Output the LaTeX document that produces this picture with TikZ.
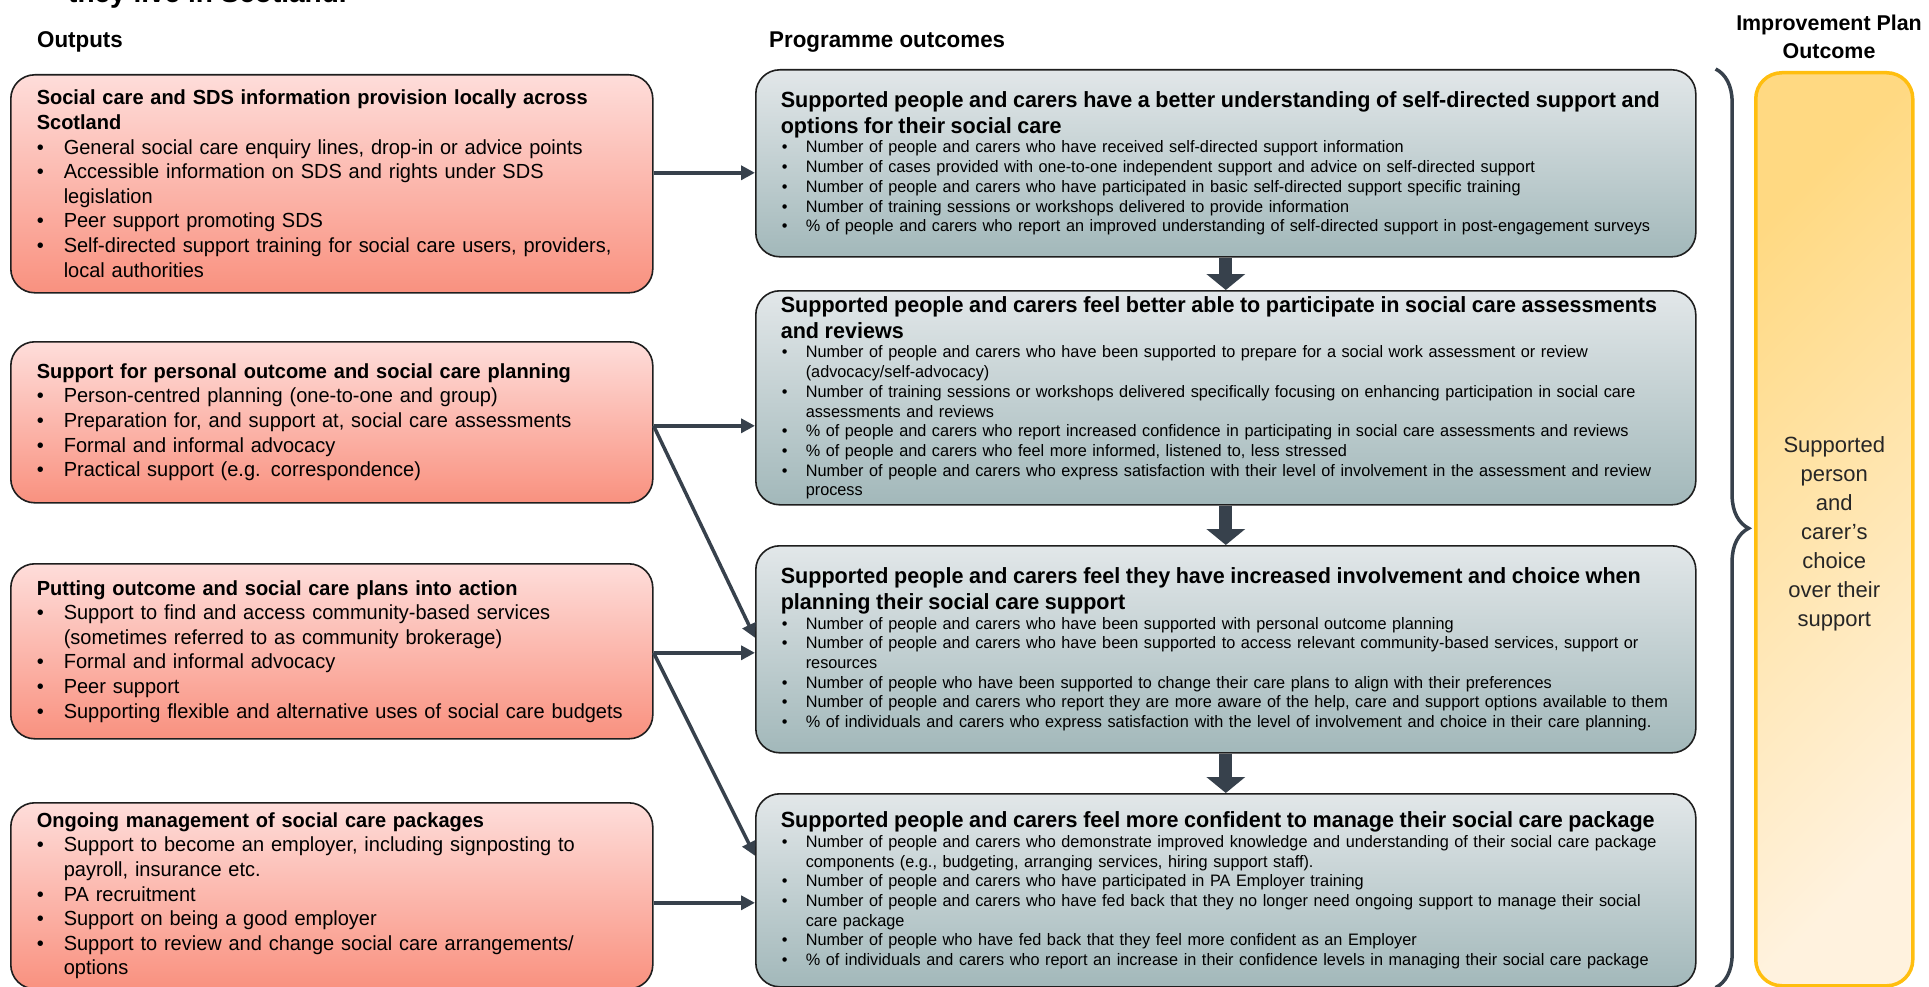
\documentclass[tikz,border=0pt]{standalone}
\usepackage{fontspec}
\setmainfont{Liberation Sans}[FakeStretch=0.98]
\newfontfamily\widefont{Liberation Sans}
\usepackage{tikz}
\usetikzlibrary{arrows.meta}
\usetikzlibrary{decorations.pathreplacing}

\definecolor{pinktop}{HTML}{FEDDDA}
\definecolor{pinkbot}{HTML}{F9917F}
\definecolor{greytop}{HTML}{E2E7E9}
\definecolor{greybot}{HTML}{A2B8BA}
\definecolor{edgec}{HTML}{1E1E1E}
\definecolor{arrowc}{HTML}{37414C}
\definecolor{goldtop}{HTML}{FFD982}
\definecolor{goldbot}{HTML}{FFF2DE}
\definecolor{goldedge}{HTML}{FFBE0F}

\setlength{\parindent}{0pt}
\newlength{\bulind}
\newlength{\bulpre}
\newcommand{\bitem}[1]{\par\noindent\hangindent=\bulind\hangafter=1\makebox[\bulind][l]{\hspace{\bulpre}\textbullet}#1\par}

\tikzset{
  outbox/.style={draw=edgec, line width=1.6pt, rounded corners=24pt, top color=pinktop, bottom color=pinkbot,
    anchor=north west, text width=590pt, inner xsep=26pt, inner ysep=0pt, align=left,
    font=\fontsize{20.4}{24.6}\selectfont, execute at begin node={\setlength{\bulind}{27pt}\setlength{\bulpre}{0pt}}},
  outcome/.style={draw=edgec, line width=1.6pt, rounded corners=24pt, top color=greytop, bottom color=greybot,
    anchor=north west, text width=896pt, inner xsep=22pt, inner ysep=0pt, align=left,
    font=\fontsize{16.6}{19.7}\selectfont, execute at begin node={\setlength{\bulind}{28pt}\setlength{\bulpre}{4pt}}},
  header/.style={anchor=west, inner sep=0pt, font=\bfseries\fontsize{22.8}{28}\selectfont},
  link/.style={draw=arrowc, line width=3.5pt, -{Triangle[width=14pt,length=14pt]}},
  bigdown/.style={draw=arrowc, line width=13pt, -{Triangle[width=38pt,length=16pt]}},
  brace/.style={draw=arrowc, line width=3.5pt, decorate, decoration={brace, amplitude=33pt}}
}

\newcommand{\mtitle}[1]{{\fontsize{22}{26}\selectfont\bfseries\leftskip=3pt #1\par}}

\begin{document}
\begin{tikzpicture}[x=1pt,y=-1pt]
\useasboundingbox (0,0) rectangle (1929,987);
\clip (0,0) rectangle (1929,987);

\node[anchor=base west, inner sep=0pt, font=\widefont\bfseries\fontsize{28}{32}\selectfont] (toptitle) at (68,3) {they live in Scotland.};
\node[header] (hout) at (37,42) {Outputs};
\node[header] (hprog) at (769,42) {Programme outcomes};
\node[align=center, inner sep=0pt, font=\widefont\bfseries\fontsize{21.4}{28}\selectfont] (himp) at (1829,37) {Improvement Plan\\Outcome};

\node[outbox, minimum height=218pt] (b1) at (10,74) {\textbf{Social care and SDS information provision locally across\newline Scotland}
\bitem{General social care enquiry lines, drop-in or advice points}
\bitem{Accessible information on SDS and rights under SDS\newline legislation}
\bitem{Peer support promoting SDS}
\bitem{Self-directed support training for social care users, providers,\newline local authorities}};
\node[outbox, minimum height=161pt] (b2) at (10,341) {\textbf{Support for personal outcome and social care planning}
\bitem{Person-centred planning (one-to-one and group)}
\bitem{Preparation for, and support at, social care assessments}
\bitem{Formal and informal advocacy}
\bitem{Practical support (e.g. correspondence)}};
\node[outbox, minimum height=175pt] (b3) at (10,563) {\textbf{Putting outcome and social care plans into action}
\bitem{Support to find and access community-based services\newline (sometimes referred to as community brokerage)}
\bitem{Formal and informal advocacy}
\bitem{Peer support}
\bitem{Supporting flexible and alternative uses of social care budgets}};
\node[outbox, minimum height=186pt] (b4) at (10,802) {\textbf{Ongoing management of social care packages}
\bitem{Support to become an employer, including signposting to\newline payroll, insurance etc.}
\bitem{PA recruitment}
\bitem{Support on being a good employer}
\bitem{Support to review and change social care arrangements/\newline options}};

\node[outcome, minimum height=187pt] (m1) at (755,69) {\mtitle{Supported people and carers have a better understanding of self-directed support and\newline options for their social care}
\bitem{Number of people and carers who have received self-directed support information}
\bitem{Number of cases provided with one-to-one independent support and advice on self-directed support}
\bitem{Number of people and carers who have participated in basic self-directed support specific training}
\bitem{Number of training sessions or workshops delivered to provide information}
\bitem{\% of people and carers who report an improved understanding of self-directed support in post-engagement surveys}};
\node[outcome, minimum height=214pt] (m2) at (755,290) {\mtitle{Supported people and carers feel better able to participate in social care assessments\newline and reviews}
\bitem{Number of people and carers who have been supported to prepare for a social work assessment or review\newline (advocacy/self-advocacy)}
\bitem{Number of training sessions or workshops delivered specifically focusing on enhancing participation in social care\newline assessments and reviews}
\bitem{\% of people and carers who report increased confidence in participating in social care assessments and reviews}
\bitem{\% of people and carers who feel more informed, listened to, less stressed}
\bitem{Number of people and carers who express satisfaction with their level of involvement in the assessment and review\newline process}};
\node[outcome, minimum height=207pt] (m3) at (755,545) {\mtitle{Supported people and carers feel they have increased involvement and choice when\newline planning their social care support}
\bitem{Number of people and carers who have been supported with personal outcome planning}
\bitem{Number of people and carers who have been supported to access relevant community-based services, support or\newline resources}
\bitem{Number of people who have been supported to change their care plans to align with their preferences}
\bitem{Number of people and carers who report they are more aware of the help, care and support options available to them}
\bitem{\% of individuals and carers who express satisfaction with the level of involvement and choice in their care planning.}};
\node[outcome, minimum height=193pt] (m4) at (755,793) {\mtitle{Supported people and carers feel more confident to manage their social care package}
\bitem{Number of people and carers who demonstrate improved knowledge and understanding of their social care package\newline components (e.g., budgeting, arranging services, hiring support staff).}
\bitem{Number of people and carers who have participated in PA Employer training}
\bitem{Number of people and carers who have fed back that they no longer need ongoing support to manage their social\newline care package}
\bitem{Number of people who have fed back that they feel more confident as an Employer}
\bitem{\% of individuals and carers who report an increase in their confidence levels in managing their social care package}};

\node[draw=goldedge, line width=3.5pt, rounded corners=26pt, top color=goldtop, bottom color=goldbot, shading angle=45,
  anchor=north west, minimum width=157pt, minimum height=913pt] (goal) at (1754,71) {};
\node[align=center, text=black!85, font=\widefont\fontsize{22}{29}\selectfont] (goaltext) at ([yshift=-5pt]goal.center) {Supported\\person\\and\\carer’s\\choice\\over their\\support};

\coordinate (s1) at ([yshift=11pt]b1.east);
\coordinate (s2) at ([yshift=-3.5pt]b2.east);
\coordinate (s3) at ([yshift=-1.5pt]b3.east);
\coordinate (s4) at ([yshift=-7pt]b4.east);
\draw[link] (s1) -- (s1 -| m1.west);
\draw[link] (s2) -- (s2 -| m2.west);
\draw[link] (s2) -- ([yshift=11.5pt]m3.west);
\draw[link] (s3) -- (s3 -| m3.west);
\draw[link] (s3) -- ([yshift=34.5pt]m4.west);
\draw[link] (s4) -- (s4 -| m4.west);

\draw[bigdown] (m1.south) -- (m2.north);
\draw[bigdown] (m2.south) -- (m3.north);
\draw[bigdown] (m3.south) -- (m4.north);

\draw[brace] ([xshift=19pt]m1.north east) -- ([xshift=19pt]m4.south east);
\end{tikzpicture}
\end{document}
